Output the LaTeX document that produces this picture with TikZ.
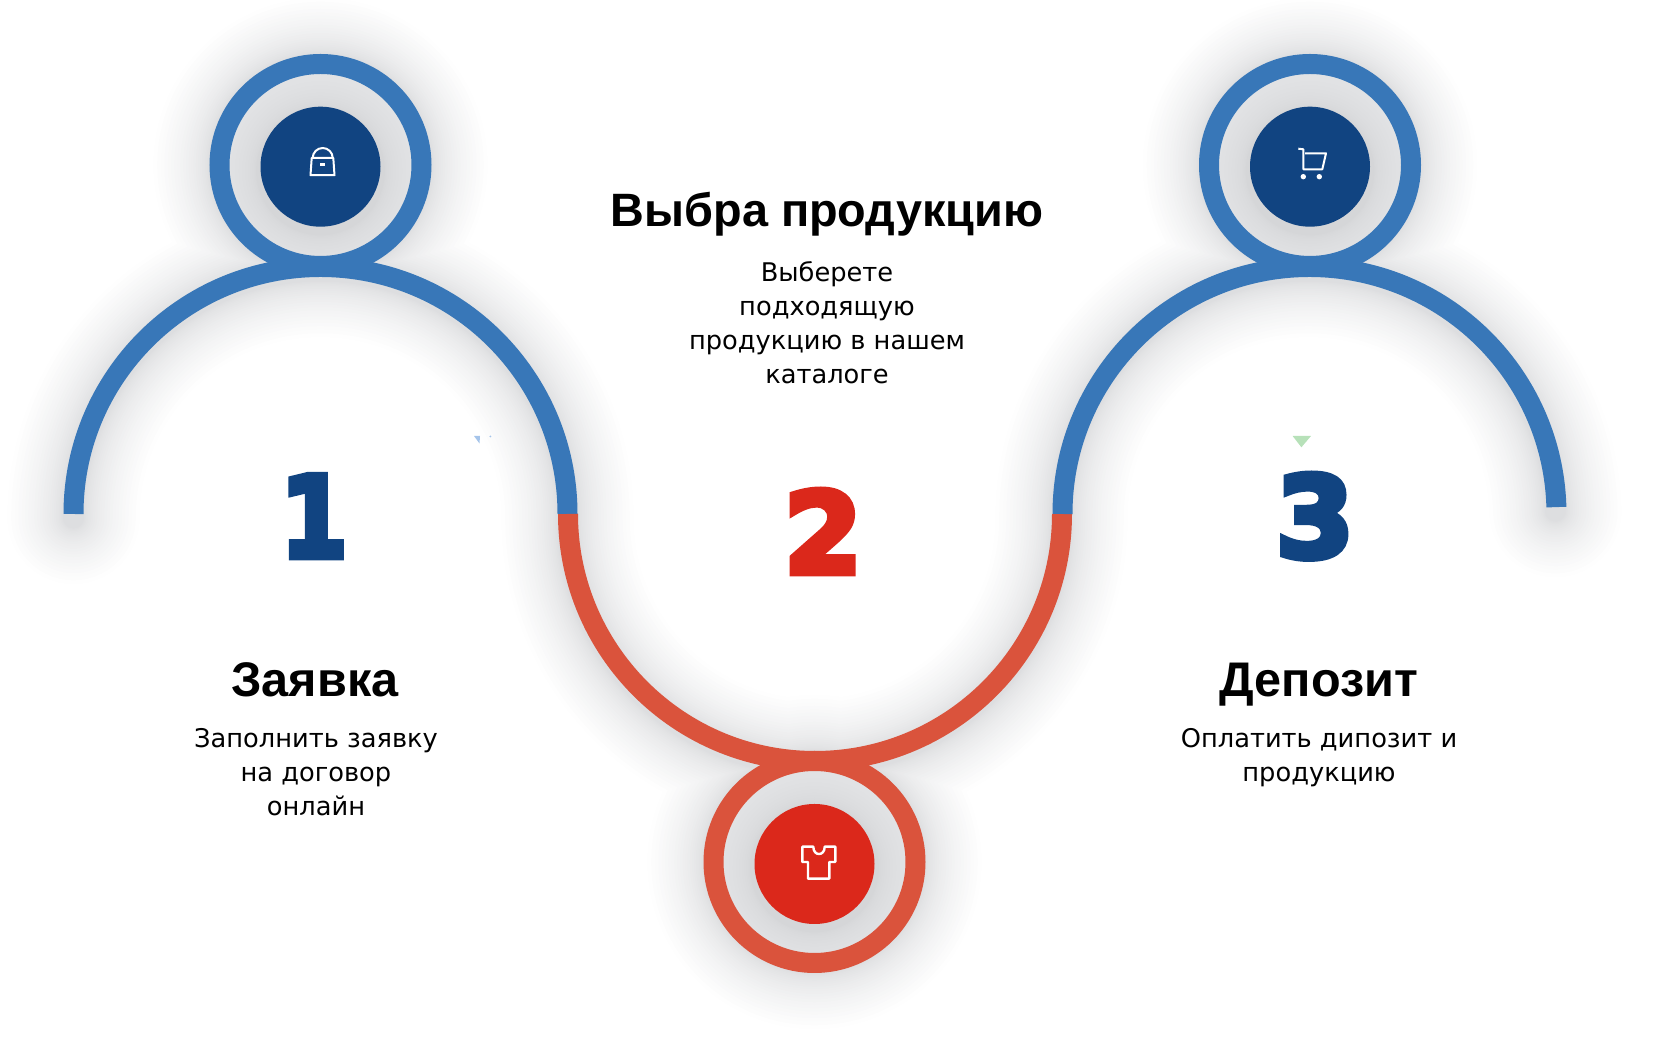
\documentclass[tikz,border=0pt]{standalone}
\usepackage{fontspec}
\setmainfont{Liberation Sans}
\newfontfamily\bodyfont{DejaVu Sans}
\newfontfamily\numfont[FakeBold=6]{DejaVu Sans Bold}
\definecolor{ringblue}{HTML}{3877B8}
\definecolor{discblue}{HTML}{114481}
\definecolor{ringred}{HTML}{DA533C}
\definecolor{discred}{HTML}{DB281B}
\definecolor{wellgrey}{HTML}{E1E2E4}
\definecolor{shadegrey}{HTML}{4A4E58}
\definecolor{specgreen}{HTML}{B7E1B9}
\definecolor{specblue}{HTML}{A5C4EA}
\tikzset{
  ringline/.style={line width=10pt},
  shadeline/.style={line width=#1,draw=shadegrey,opacity=0.006,line cap=round},
  headtext/.style={font=\fontsize{24.3}{28}\selectfont\bfseries,anchor=base},
  bodytext/.style={font=\fontsize{12.85}{17}\bodyfont,align=center,anchor=base},
  numtext/.style={font=\fontsize{56}{56}\numfont,anchor=base},
  iconline/.style={draw=white,line width=1pt,line join=round},
}
\begin{document}
\begin{tikzpicture}[x=0.5pt,y=0.5pt]
\useasboundingbox (0,0) rectangle (1662,1044);
\coordinate (P) at (320.5,879);
\coordinate (Q) at (814.5,182);
\coordinate (R) at (1310,879);
% soft shadows
\foreach \i in {1,...,24} {
  \pgfmathsetmacro\w{10+56*(\i/24)^1.6}
  \draw[shadeline=\w pt,yshift=-2pt] (73.5,530) arc (180:0:247) arc (180:360:247) arc (180:1.6:247)
    (P) circle (101) (Q) circle (101) (R) circle (101);
}
% rings
\fill[wellgrey] (P) circle (101);
\fill[wellgrey] (Q) circle (101);
\fill[wellgrey] (R) circle (101);
\foreach \i in {1,...,12} {
  \pgfmathsetmacro\w{4+26*(\i/12)^2}
  \draw[shadeline=\w pt,opacity=0.004] (320.5,873) circle (60);
  \draw[shadeline=\w pt,opacity=0.004] (814.5,176) circle (60);
  \draw[shadeline=\w pt,opacity=0.004] (1310,873) circle (60);
}
\draw[ringblue,ringline] (P) circle (101);
\draw[ringred,ringline] (Q) circle (101);
\draw[ringblue,ringline] (R) circle (101);
% arcs
\draw[ringblue,ringline] (73.5,530) arc (180:0:247);
\draw[ringred,ringline] (568,530) arc (180:360:247);
\draw[ringblue,ringline] (1062.5,530) arc (180:1.6:247);
% discs
\fill[discblue] (320.5,877.3) circle (60);
\fill[discred] (814.5,180) circle (60);
\fill[discblue] (1310,877.3) circle (60);
% bag
\draw[iconline] (311.7,886) -- (310.5,868.8) -- (334.5,868.8) -- (333.3,886) -- cycle;
\draw[iconline] (312.7,886) arc (180:0:10);
\fill[white] (320,878) rectangle (325,880.7);
% shirt
\draw[iconline,line width=1.2pt] (802.3,197.3) -- (813.3,197.3) .. controls (813.3,187.5) and (824.7,187.5) .. (824.7,197.3)
  -- (835.3,197.3) -- (835.3,182) -- (829.3,182) -- (829.3,165.3) -- (808,165.3) -- (808,182) -- (802.3,182) -- cycle;
% cart
\draw[iconline] (1298.3,895.3) -- (1303.3,894.7) -- (1303.3,874.7) -- (1322.3,874.7) -- (1326,890.7) -- (1305,890.7);
\fill[white] (1303.3,867.3) circle (2.7);
\fill[white] (1319.3,867.3) circle (2.7);
% specks
\fill[specgreen] (1292.6,608) -- (1311,608) -- (1301.4,596.7) -- cycle;
\fill[specblue] (474,608) -- (480,608) -- (479.5,600.5) -- cycle;
\fill[specblue] (490.4,607.5) circle (1);
% numbers
\node[numtext,text=discblue,xscale=0.86] (one) at (314,487) {1};
\node[numtext,text=discred] (two) at (823,471) {2};
\node[numtext,text=discblue] (three) at (1315,487) {3};
% texts
\node[headtext,font=\fontsize{23.4}{28}\selectfont\bfseries] (head2) at (827,817) {Выбра продукцию};
\node[bodytext] (body2) at (827,660) {Выберете\\подходящую\\продукцию в нашем\\каталоге};
\node[headtext] (head1) at (315,347) {Заявка};
\node[bodytext] (body1) at (316,228) {Заполнить заявку\\на договор\\онлайн};
\node[headtext] (head3) at (1319,347) {Депозит};
\node[bodytext] (body3) at (1319,262) {Оплатить дипозит и\\продукцию};
\end{tikzpicture}
\end{document}
